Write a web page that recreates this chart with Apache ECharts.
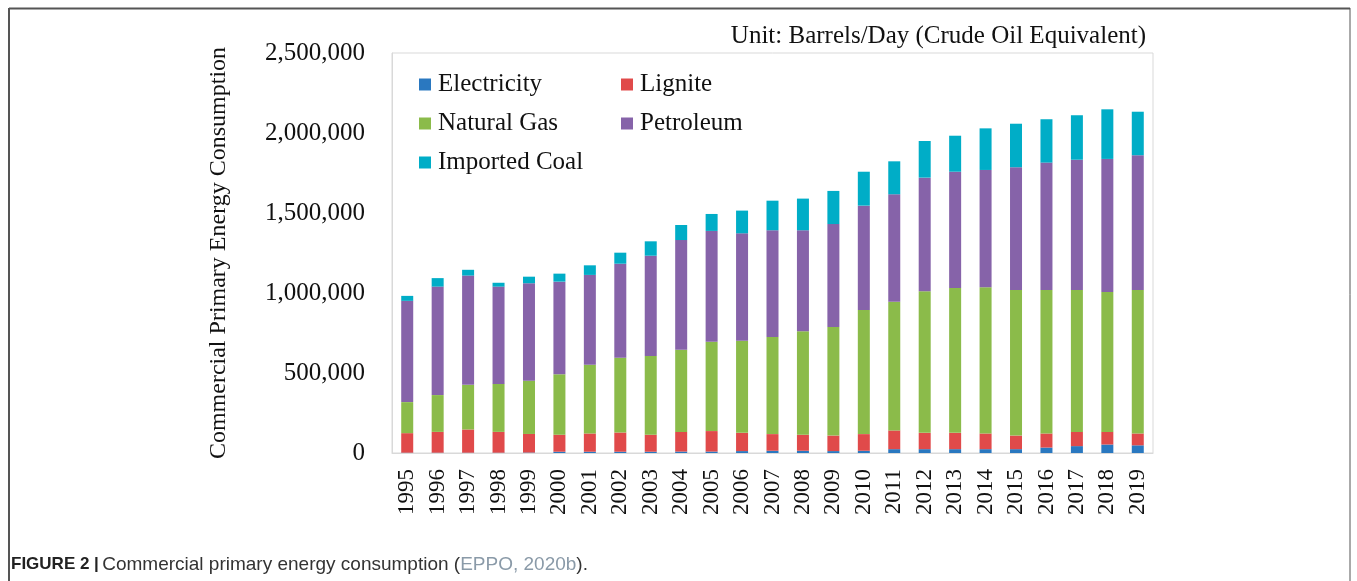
<!DOCTYPE html>
<html>
<head>
<meta charset="utf-8">
<script src="https://cdn.jsdelivr.net/npm/echarts@6/dist/echarts.min.js"></script>
<style>
  html, body { margin: 0; padding: 0; background: #fff; }
  #chart { width: 1357px; height: 581px; }
</style>
</head>
<body>
<div id="chart"></div>
<script>
// data (barrels/day, crude oil equivalent)
var years = ['1995','1996','1997','1998','1999','2000','2001','2002','2003','2004','2005','2006',
  '2007','2008','2009','2010','2011','2012','2013','2014','2015','2016','2017','2018','2019'];
var electricity = [2000, 2000, 2000, 2000, 3000, 8000, 8000, 8000, 8000, 9000, 9000, 12000,
  14000, 14000, 12000, 14000, 24000, 24000, 24000, 24000, 24000, 34000, 43000, 53000, 48000];
var lignite = [122000, 130000, 145000, 130000, 116000, 106000, 114000, 120000, 106000, 123000, 128000, 114000,
  104000, 100000, 97000, 104000, 117000, 102000, 102000, 98000, 85000, 88000, 89000, 79000, 74000];
var naturalGas = [194000, 230000, 279000, 300000, 333000, 378000, 430000, 468000, 492000, 514000, 559000, 576000,
  607000, 647000, 679000, 776000, 805000, 885000, 905000, 914000, 910000, 897000, 887000, 874000, 897000];
var petroleum = [633000, 678000, 683000, 608000, 609000, 579000, 561000, 587000, 627000, 685000, 692000, 671000,
  667000, 631000, 643000, 652000, 671000, 710000, 727000, 733000, 767000, 796000, 814000, 832000, 842000];
var importedCoal = [31000, 53000, 36000, 24000, 41000, 50000, 60000, 69000, 90000, 94000, 106000, 142000,
  185000, 198000, 207000, 212000, 206000, 229000, 225000, 260000, 272000, 271000, 278000, 310000, 272000];

var seriesNames = ['Electricity', 'Lignite', 'Natural Gas', 'Petroleum', 'Imported Coal'];
var seriesColors = ['#2a78c0', '#e04a4a', '#8bbb4a', '#8663a9', '#00adc7'];
var seriesData = [electricity, lignite, naturalGas, petroleum, importedCoal];

var serif = '"Liberation Serif", "Times New Roman", serif';
var sans = '"Liberation Sans", Arial, sans-serif';

var chart = echarts.init(document.getElementById('chart'));

var series = seriesNames.map(function (name, i) {
  return {
    name: name,
    type: 'bar',
    stack: 'total',
    barWidth: 12,
    itemStyle: { color: seriesColors[i] },
    data: seriesData[i]
  };
});

var legendBase = {
  orient: 'vertical',
  top: 67,
  itemWidth: 12,
  itemHeight: 12,
  itemGap: 14,
  icon: 'rect',
  textStyle: { fontFamily: serif, fontSize: 25, color: '#111', padding: [0, 0, 0, 2] },
  selectedMode: false
};

var option = {
  animation: false,
  backgroundColor: '#fff',
  grid: {
    left: 392,
    right: 204,
    top: 53,
    height: 400,
    show: true,
    borderColor: '#d9d9d9',
    borderWidth: 1
  },
  legend: [
    Object.assign({}, legendBase, { left: 414, data: ['Electricity', 'Natural Gas', 'Imported Coal'] }),
    Object.assign({}, legendBase, { left: 616, data: ['Lignite', 'Petroleum'] })
  ],
  xAxis: {
    type: 'category',
    data: years,
    axisLine: { lineStyle: { color: '#d9d9d9' } },
    axisTick: { show: false },
    axisLabel: {
      rotate: 90,
      margin: 16,
      fontFamily: serif,
      fontSize: 23,
      color: '#111'
    }
  },
  yAxis: {
    type: 'value',
    min: 0,
    max: 2500000,
    interval: 500000,
    name: 'Commercial Primary Energy Consumption',
    nameLocation: 'middle',
    nameGap: 161,
    nameTextStyle: { fontFamily: serif, fontSize: 24, color: '#111' },
    splitLine: { show: false },
    axisLine: { show: true, lineStyle: { color: '#d9d9d9' } },
    axisTick: { show: false },
    axisLabel: {
      margin: 27,
      fontFamily: serif,
      fontSize: 25,
      color: '#111',
      formatter: function (v) { return v.toLocaleString('en-US'); }
    }
  },
  graphic: [
    // outer figure frame
    { type: 'line', shape: { x1: 9, y1: 8.5, x2: 1350, y2: 8.5 }, style: { stroke: '#555', lineWidth: 2 } },
    { type: 'line', shape: { x1: 9, y1: 8, x2: 9, y2: 581 }, style: { stroke: '#555', lineWidth: 2 } },
    { type: 'line', shape: { x1: 1350, y1: 8, x2: 1350, y2: 581 }, style: { stroke: '#555', lineWidth: 1 } },
    {
      type: 'text', right: 211, top: 24,
      style: { text: 'Unit: Barrels/Day (Crude Oil Equivalent)', font: '25px ' + serif, fill: '#111' }
    },
    {
      type: 'text', left: 11, top: 555,
      style: {
        text: '{b|FIGURE 2 |} {n|Commercial primary energy consumption (}{l|EPPO, 2020b}{n|).}',
        rich: {
          b: { fontFamily: sans, fontSize: 17, fontWeight: 'bold', fill: '#222' },
          n: { fontFamily: sans, fontSize: 19, fill: '#333' },
          l: { fontFamily: sans, fontSize: 19, fill: '#8a9aa8' }
        }
      }
    }
  ],
  series: series
};

chart.setOption(option);
</script>
</body>
</html>
